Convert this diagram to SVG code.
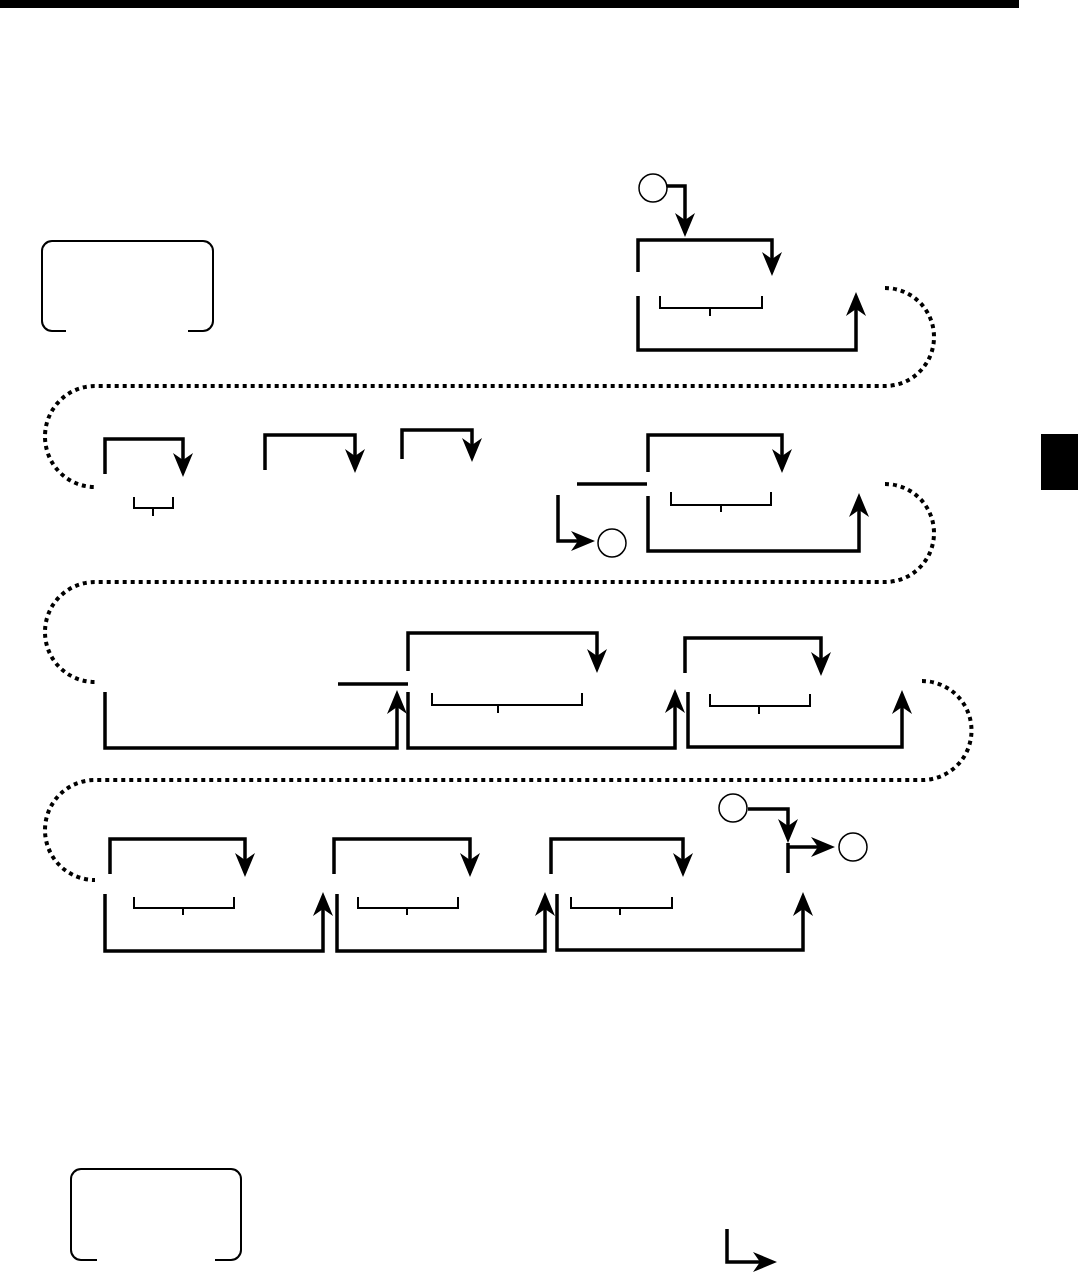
<svg xmlns="http://www.w3.org/2000/svg" width="1078" height="1275" viewBox="0 0 1078 1275">
<style>
.ln{fill:none;stroke:#000;stroke-width:3.5;stroke-linejoin:miter}
.br{fill:none;stroke:#000;stroke-width:2}
.dot{fill:none;stroke:#000;stroke-width:4;stroke-dasharray:4 4}
.cir{fill:#fff;stroke:#000;stroke-width:1.5}
.box{fill:none;stroke:#000;stroke-width:2}
.ar{marker-end:url(#ah)}
</style>
<defs>
<marker id="ah" markerUnits="userSpaceOnUse" viewBox="-12 -11 28 22" markerWidth="28" markerHeight="22" refX="0" refY="0" orient="auto">
<path d="M13,0 L-11,-10 L-4,0 L-11,10 Z" fill="#000"/>
</marker>
</defs>
<rect x="0" y="0" width="1019" height="8" fill="#000"/>
<rect x="1041" y="434" width="37" height="56" fill="#000"/>
<g id="box1"><path class="box" d="M66,331 H52 A10,10 0 0 1 42,321 V251 A10,10 0 0 1 52,241 H203 A10,10 0 0 1 213,251 V321 A10,10 0 0 1 203,331 H188"/></g>
<g id="box2"><path class="box" d="M97,1260 H81 A10,10 0 0 1 71,1250 V1179 A10,10 0 0 1 81,1169 H231 A10,10 0 0 1 241,1179 V1250 A10,10 0 0 1 231,1260 H215"/></g>
<g id="circles">
<circle id="c1" class="cir" cx="653" cy="188" r="14"/>
<circle id="c2" class="cir" cx="612" cy="543" r="14"/>
<circle id="c3" class="cir" cx="733" cy="808" r="14"/>
<circle id="c4" class="cir" cx="853" cy="847" r="14"/>
</g>
<g id="brackets">
<path class="br" d="M660,296 V308 H762 V296 M710,308 V316"/>
<path class="br" d="M134,497 V508 H173 V497 M153,508 V516"/>
<path class="br" d="M671,492 V505 H771 V492 M721,505 V512"/>
<path class="br" d="M432,693 V705 H582 V693 M498,705 V713"/>
<path class="br" d="M710,694 V706 H810 V694 M759,706 V714"/>
<path class="br" d="M134,897 V908 H234 V897 M183,908 V915"/>
<path class="br" d="M358,897 V908 H458 V897 M407,908 V915"/>
<path class="br" d="M571,897 V908 H672 V897 M620,908 V915"/>
</g>
<g id="connectors">
<path class="dot" d="M885,288 A49,49 0 0 1 885,386 H95 A50,50.5 0 0 0 95,487"/>
<path class="dot" d="M885,484 A49,49 0 0 1 885,582 H95 A50,50 0 0 0 95,682"/>
<path class="dot" d="M922,681 A49.5,49.5 0 0 1 922,780 H95 A50,50 0 0 0 95,880"/>
<path class="ln ar" d="M667,186 H685 V224"/>
<path class="ln ar" d="M638,272 V240 H772 V263"/>
<path class="ln ar" d="M638,296 V350 H856 V305"/>
<path class="ln ar" d="M105,474 V439 H183 V464"/>
<path class="ln ar" d="M265,470 V435 H355 V460"/>
<path class="ln ar" d="M402,459 V430 H472 V449"/>
<path class="ln" d="M577,484 H647"/>
<path class="ln ar" d="M558,495 V541 H582"/>
<path class="ln ar" d="M648,472 V435 H782 V460"/>
<path class="ln ar" d="M648,496 V551 H859 V506"/>
<path class="ln ar" d="M105,692 V748 H397 V703"/>
<path class="ln" d="M338,684 H408"/>
<path class="ln ar" d="M408,671 V633 H597 V660"/>
<path class="ln ar" d="M408,692 V748 H675 V702"/>
<path class="ln ar" d="M685,673 V638 H821 V663"/>
<path class="ln ar" d="M688,692 V747 H902 V703"/>
<path class="ln ar" d="M110,874 V839 H245 V864"/>
<path class="ln ar" d="M105,894 V951 H323 V905"/>
<path class="ln ar" d="M334,874 V839 H470 V864"/>
<path class="ln ar" d="M337,894 V951 H545 V905"/>
<path class="ln ar" d="M551,874 V839 H683 V864"/>
<path class="ln ar" d="M557,894 V950 H803 V905"/>
<path class="ln ar" d="M748,809 H788 V830"/>
<path class="ln" d="M788,843 V873"/>
<path class="ln ar" d="M788,847 H822"/>
<path class="ln ar" d="M727,1229 V1262 H764"/>
</g>
</svg>
